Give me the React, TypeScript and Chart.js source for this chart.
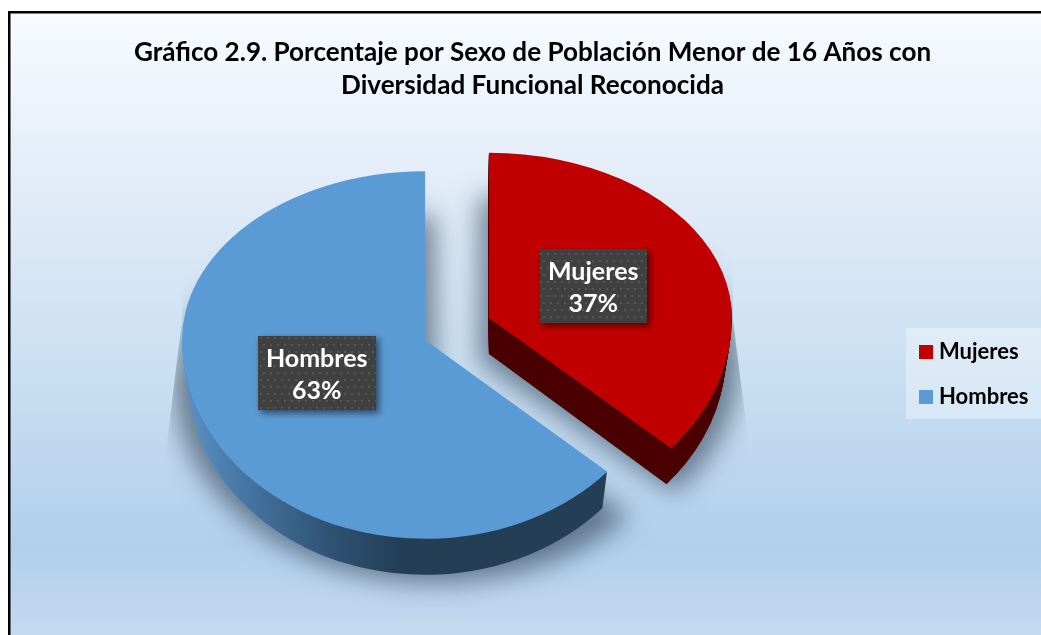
import React, { useEffect, useRef } from "react";
import { Chart, registerables } from "chart.js";

Chart.register(...registerables);

const categories = ["Mujeres", "Hombres"];
const shares = [36.51, 63.49];
const topColors = ["#c00000", "#5b9bd5"];
const titleLines = [
  "Gráfico 2.9. Porcentaje por Sexo de Población Menor de 16 Años con",
  "Diversidad Funcional Reconocida",
];

const W = 1041;
const H = 635;
const FONT = "Lato, Carlito, sans-serif";
const CX = 457;
const CY = 329;
const EXPLODE = 35;
const TILT = 0.77;
const SY_UP = [0.68, 0.695];
const SY_DOWN = [0.81, 0.818];
const DEPTH = 36;
const SHRINK = 0.025;
const LABEL_R = 0.48;

function paintArc(
  ctx: CanvasRenderingContext2D,
  arc: any,
  i: number,
  depth: number,
  fill: any,
  widen = 1,
  explode = EXPLODE
) {
  const h = (arc.startAngle + arc.endAngle) / 2;
  const ax = CX + explode * Math.cos(h);
  const ay = CY + EXPLODE * TILT * Math.sin(h);
  const kx = (1 - (SHRINK * depth) / DEPTH) * widen;
  const saved = arc.options;
  arc.options = { ...saved, backgroundColor: fill, borderWidth: 0 };
  const seam = Math.round(ay + depth);
  ([[SY_UP[i], 0, seam + 1], [SY_DOWN[i], seam, H - seam]] as number[][]).forEach(([sy, top, height]) => {
    ctx.save();
    ctx.beginPath();
    ctx.rect(0, top, W, height);
    ctx.clip();
    ctx.transform(kx, 0, 0, sy, ax - kx * arc.x, ay + depth - sy * arc.y);
    arc.draw(ctx);
    ctx.restore();
  });
  arc.options = saved;
}

function wallFill(ctx: CanvasRenderingContext2D, arc: any, index: number) {
  if (index === 0) return "#4a0000";
  const h = (arc.startAngle + arc.endAngle) / 2;
  const ax = CX + EXPLODE * Math.cos(h);
  const toFlat = (x: number) => arc.x + (x - ax);
  const g = ctx.createLinearGradient(toFlat(180), 0, toFlat(610), 0);
  g.addColorStop(0, "#5a92c6");
  g.addColorStop(0.16, "#44739f");
  g.addColorStop(0.35, "#2f5273");
  g.addColorStop(0.52, "#233e55");
  g.addColorStop(1, "#233e55");
  return g;
}

function dotPattern(ctx: CanvasRenderingContext2D) {
  const c = document.createElement("canvas");
  c.width = 14;
  c.height = 14;
  const p = c.getContext("2d")!;
  p.fillStyle = "#404040";
  p.fillRect(0, 0, 14, 14);
  p.fillStyle = "#565656";
  [[1, 1], [8, 1], [4, 8], [11, 8]].forEach(([x, y]) => p.fillRect(x, y, 2, 2));
  return ctx.createPattern(c, "repeat")!;
}

function swatch(color: string) {
  const c = document.createElement("canvas");
  c.width = 14;
  c.height = 14;
  const p = c.getContext("2d")!;
  p.fillStyle = color;
  p.fillRect(0, 0, 14, 14);
  return c;
}

const piePlugin = {
  id: "tiltedPie",
  beforeDraw(chart: any) {
    const ctx: CanvasRenderingContext2D = chart.ctx;
    ctx.save();
    ctx.fillStyle = "#ffffff";
    ctx.fillRect(0, 0, W, H);
    const g = ctx.createLinearGradient(0, 13, 0, H);
    g.addColorStop(0, "#f8fbff");
    g.addColorStop(0.3, "#e0ebf7");
    g.addColorStop(0.58, "#c9dff2");
    g.addColorStop(0.86, "#b2cfea");
    g.addColorStop(1, "#c4daf0");
    ctx.fillStyle = g;
    ctx.fillRect(8, 11, W, H);
    ctx.strokeStyle = "#000000";
    ctx.lineWidth = 2.5;
    ctx.beginPath();
    ctx.moveTo(9.25, H + 2);
    ctx.lineTo(9.25, 12.25);
    ctx.lineTo(W + 2, 12.25);
    ctx.stroke();
    ctx.fillStyle = "rgba(255,255,255,0.35)";
    ctx.fillRect(906, 328, 135, 91);
    ctx.restore();
  },
  afterLayout(chart: any) {
    const l = chart.legend;
    l.left = 901;
    l.right = W;
    l.top = 317.5;
    l.bottom = H;
  },
  beforeDatasetsDraw(chart: any) {
    const ctx: CanvasRenderingContext2D = chart.ctx;
    const arcs = chart.getDatasetMeta(0).data;

    const off = document.createElement("canvas");
    off.width = W;
    off.height = H;
    const oc = off.getContext("2d")!;
    arcs.forEach((a: any, i: number) => paintArc(oc, a, i, DEPTH, "#000000", 1.1, EXPLODE * 0.7));
    ctx.save();
    ctx.beginPath();
    ctx.moveTo(182, 150);
    ctx.lineTo(733, 150);
    ctx.lineTo(733, 320);
    ctx.lineTo(752, 470);
    ctx.lineTo(752, 635);
    ctx.lineTo(150, 635);
    ctx.lineTo(160, 500);
    ctx.lineTo(182, 320);
    ctx.closePath();
    ctx.clip();
    ctx.shadowColor = "rgba(45,65,85,0.62)";
    ctx.shadowBlur = 26;
    ctx.shadowOffsetX = 3000;
    ctx.shadowOffsetY = 8;
    ctx.drawImage(off, -3000, 0);
    ctx.restore();

    arcs.forEach((a: any, i: number) => {
      const h = (a.startAngle + a.endAngle) / 2;
      const ay = CY + EXPLODE * TILT * Math.sin(h);
      const fill = wallFill(ctx, a, i);
      ctx.save();
      if (i === 1) {
        ctx.beginPath();
        ctx.rect(0, ay, W, H - ay);
        ctx.clip();
      }
      for (let d = DEPTH; d >= 1; d--) paintArc(ctx, a, i, d, fill);
      ctx.restore();
    });
    arcs.forEach((a: any, i: number) => paintArc(ctx, a, i, 0, topColors[i]));
    return false;
  },
  afterDraw(chart: any) {
    const ctx: CanvasRenderingContext2D = chart.ctx;
    const arcs = chart.getDatasetMeta(0).data;
    const pattern = dotPattern(ctx);
    const total = shares.reduce((s, v) => s + v, 0);
    arcs.forEach((a: any, i: number) => {
      const h = (a.startAngle + a.endAngle) / 2;
      const ax = CX + EXPLODE * Math.cos(h);
      const ay = CY + EXPLODE * TILT * Math.sin(h);
      const px = ax + LABEL_R * a.outerRadius * Math.cos(h) - 2;
      const py = ay + LABEL_R * a.outerRadius * SY_UP[0] * Math.sin(h) + 0.5;
      const lines = [categories[i], `${Math.round((shares[i] / total) * 100)}%`];
      ctx.save();
      ctx.font = `bold 25px ${FONT}`;
      const w = Math.ceil(ctx.measureText(lines[0]).width) + 16;
      const bh = 74;
      ctx.save();
      ctx.shadowColor = "rgba(0,0,0,0.55)";
      ctx.shadowBlur = 7;
      ctx.shadowOffsetX = 3;
      ctx.shadowOffsetY = 3;
      ctx.fillStyle = pattern;
      ctx.fillRect(Math.round(px - w / 2), Math.round(py - bh / 2), w, bh);
      ctx.restore();
      ctx.fillStyle = "#ffffff";
      ctx.textAlign = "center";
      ctx.textBaseline = "middle";
      ctx.fillText(lines[0], px, py - 14);
      ctx.fillText(lines[1], px, py + 18);
      ctx.restore();
    });
  },
};

export default function App() {
  const ref = useRef<HTMLCanvasElement>(null);
  useEffect(() => {
    const chart = new Chart(ref.current!, {
      type: "pie",
      data: {
        labels: categories,
        datasets: [{ data: shares, backgroundColor: topColors, borderWidth: 0 }],
      },
      options: {
        animation: false,
        responsive: false,
        radius: 243,
        layout: { padding: { left: 24, top: 36 } },
        plugins: {
          title: {
            display: true,
            text: titleLines,
            color: "#000000",
            font: { family: FONT, weight: "bold", size: 26.1, lineHeight: 33 / 26.1 },
            padding: 0,
          },
          legend: {
            display: true,
            position: "right",
            align: "start",
            labels: {
              usePointStyle: true,
              pointStyleWidth: 4,
              padding: 23,
              color: "#000000",
              font: { family: FONT, weight: "bold", size: 22 },
              generateLabels: () =>
                categories.map((text, index) => ({
                  text,
                  index,
                  fillStyle: topColors[index],
                  strokeStyle: topColors[index],
                  lineWidth: 0,
                  hidden: false,
                  fontColor: "#000000",
                  pointStyle: swatch(topColors[index]),
                })),
            },
          },
          tooltip: { enabled: false },
        },
      } as any,
      plugins: [piePlugin],
    });
    return () => chart.destroy();
  }, []);
  return (
    <canvas
      ref={ref}
      width={W}
      height={H}
      style={{ position: "absolute", left: 0, top: 0, display: "block" }}
    />
  );
}
